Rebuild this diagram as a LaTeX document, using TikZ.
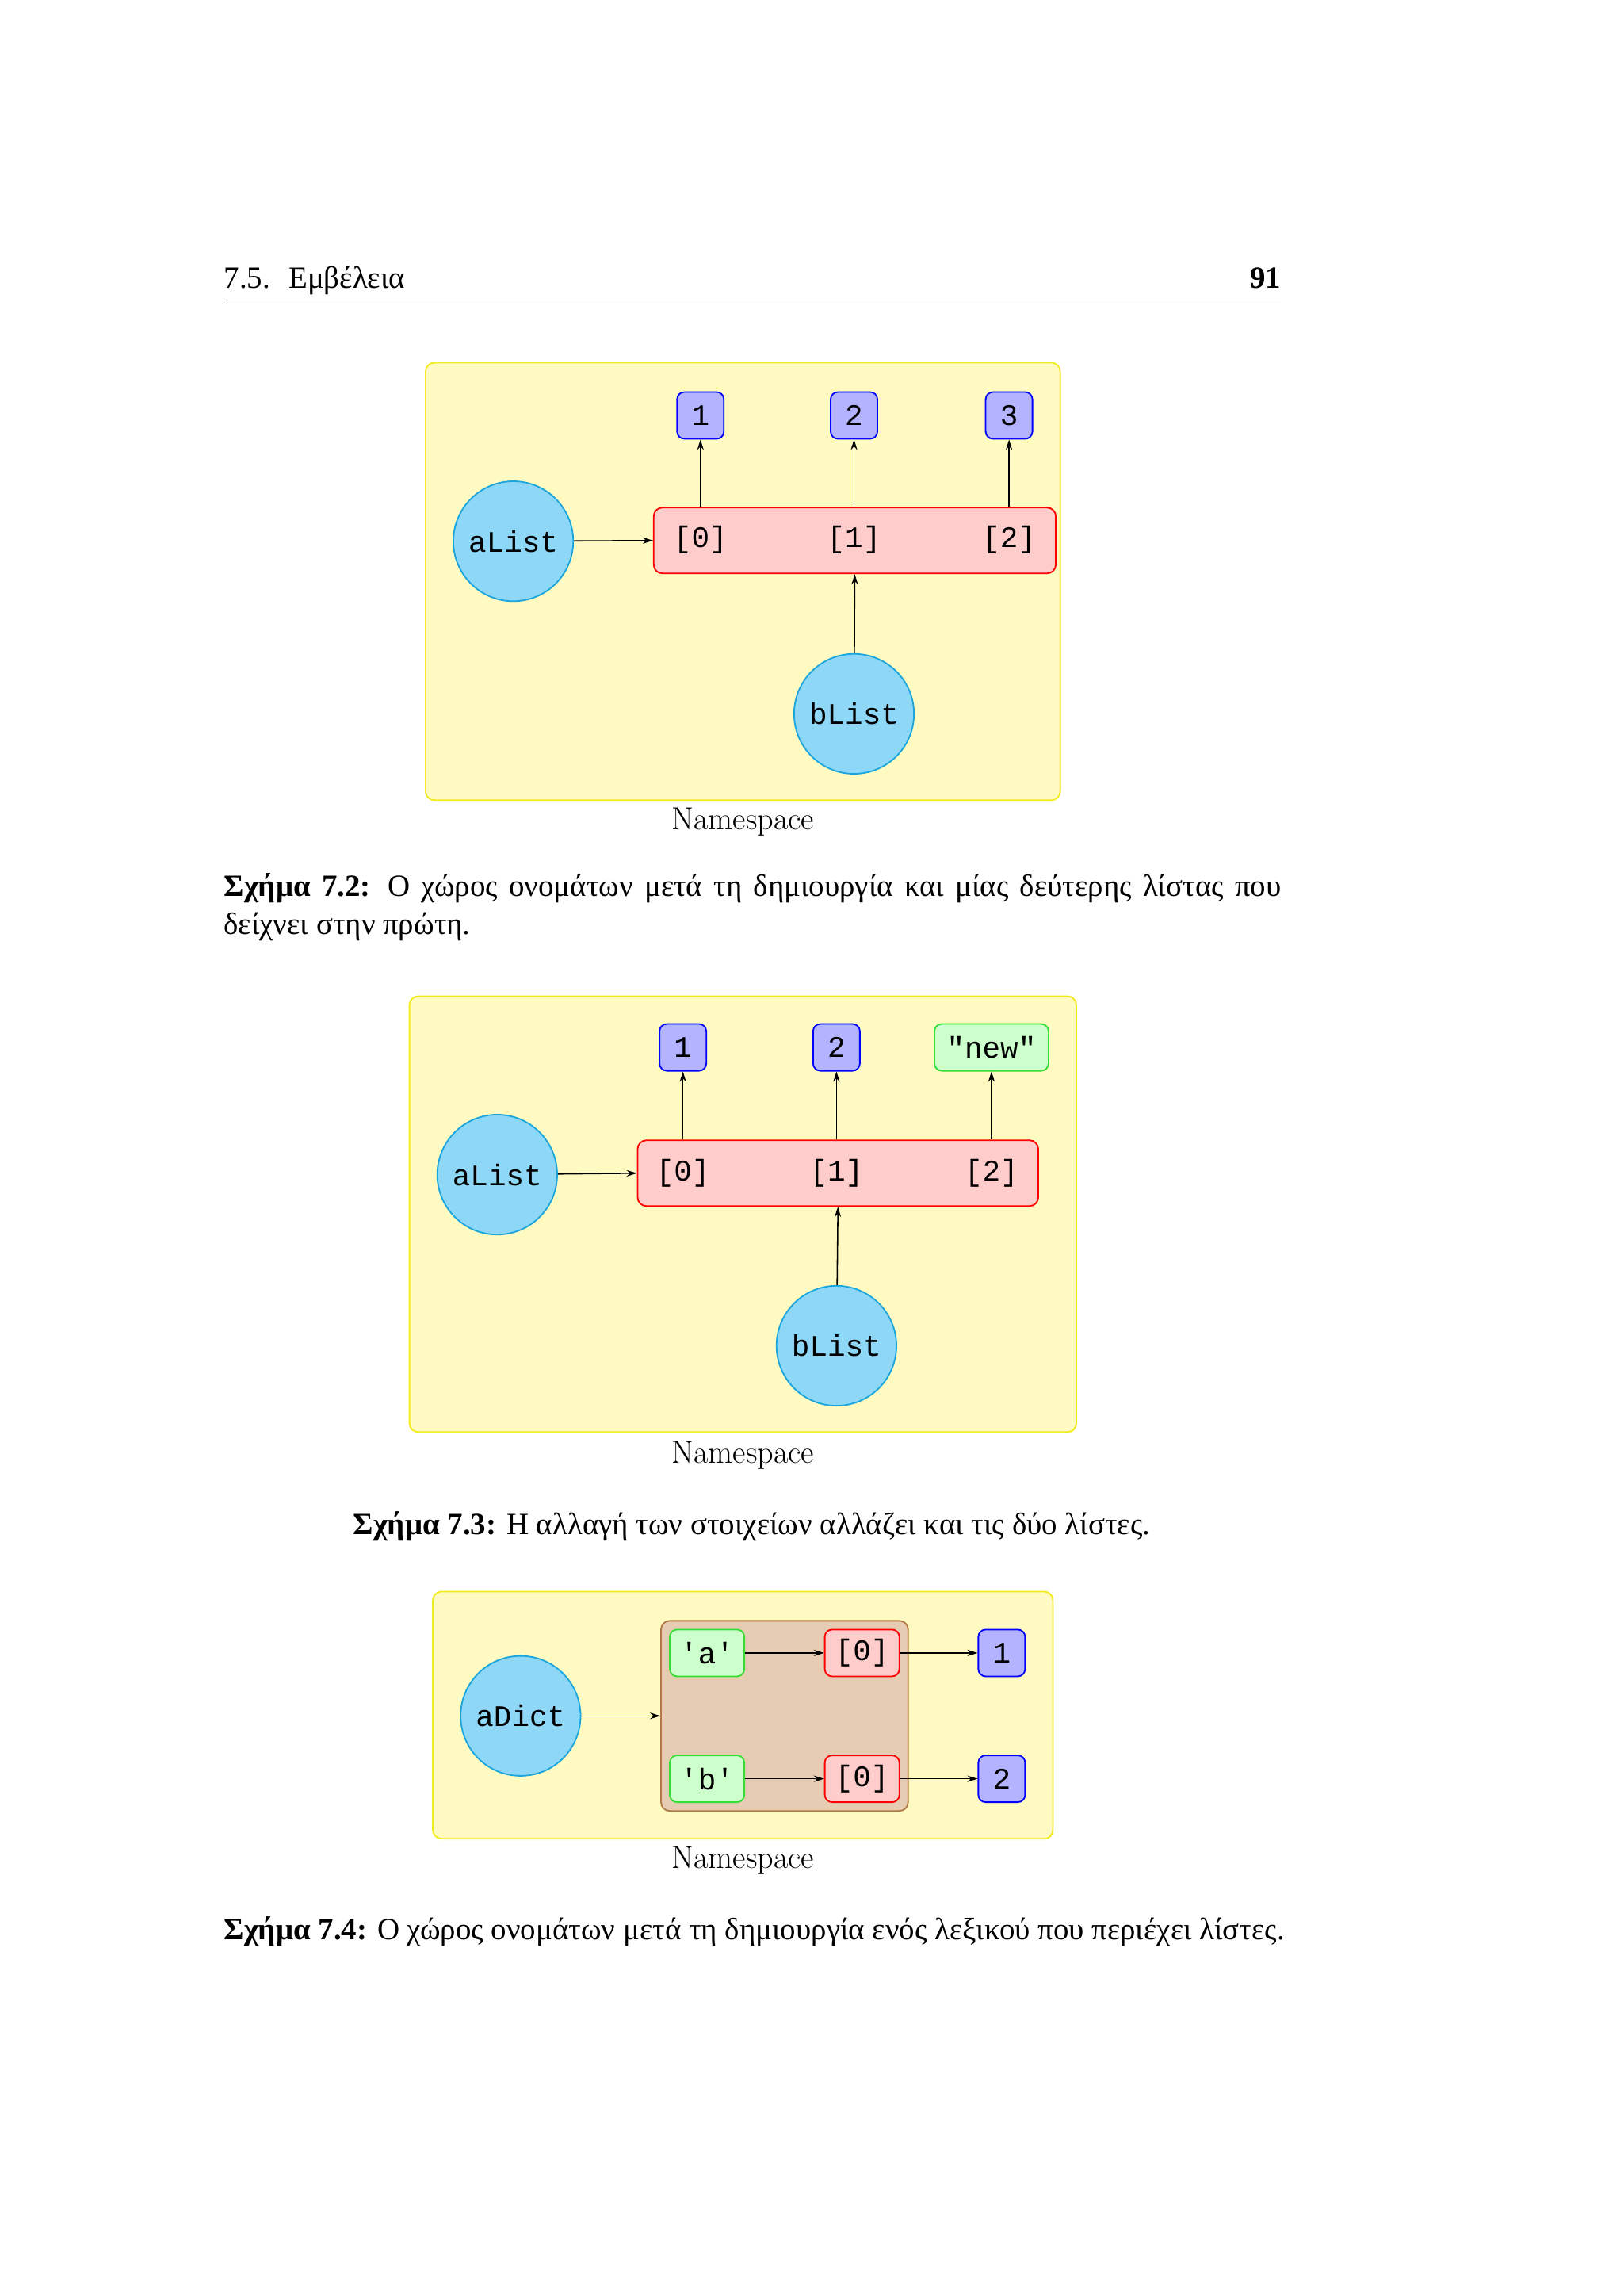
\documentclass[tikz,border=0pt]{standalone}
\usepackage{fontspec}
\setmainfont{Liberation Serif}
\setmonofont{Liberation Mono}
\newfontfamily\cmfont{Latin Modern Roman}
\usetikzlibrary{arrows.meta}
\definecolor{nsfill}{HTML}{FEFAC2}
\definecolor{nsdraw}{HTML}{F2EA1A}
\definecolor{cfill}{HTML}{8FD7F7}
\definecolor{cdraw}{HTML}{1AA5DC}
\definecolor{rfill}{HTML}{FFCCCC}
\definecolor{bfill}{HTML}{B3B3FF}
\definecolor{gfill}{HTML}{CCFFCC}
\definecolor{gdraw}{HTML}{33DD33}
\definecolor{brfill}{HTML}{E6CCB3}
\definecolor{brdraw}{HTML}{B07A45}
\begin{document}
\begin{tikzpicture}[x=0.05cm,y=-0.05cm,
  ns/.style={draw=nsdraw,fill=nsfill,line width=1.4pt,rounded corners=0.3cm},
  var/.style={circle,draw=cdraw,fill=cfill,line width=1.4pt,minimum size=4.1cm,inner sep=0pt,font=\fontsize{29}{29}\selectfont\ttfamily},
  lst/.style={draw=red,fill=rfill,line width=1.4pt,rounded corners=0.3cm,inner sep=0pt},
  idx/.style={inner sep=0pt,font=\fontsize{29}{29}\selectfont\ttfamily},
  val/.style={draw=blue,fill=bfill,line width=1.4pt,rounded corners=0.25cm,minimum width=1.6cm,minimum height=1.6cm,inner sep=2pt,font=\fontsize{29}{29}\selectfont\ttfamily},
  str/.style={draw=gdraw,fill=gfill,line width=1.4pt,rounded corners=0.25cm,minimum height=1.6cm,inner sep=4pt,font=\fontsize{29}{29}\selectfont\ttfamily},
  rv/.style={draw=red,fill=rfill,line width=1.4pt,rounded corners=0.25cm,minimum width=2.55cm,minimum height=1.6cm,inner sep=2pt,font=\fontsize{29}{29}\selectfont\ttfamily},
  arr/.style={-{Stealth[length=0.35cm,width=0.22cm]},line width=1.2pt},
  lbl/.style={font=\fontsize{31}{31}\selectfont\cmfont},
  body/.style={font=\fontsize{30}{37}\selectfont}]
\useasboundingbox (0,0) rectangle (1110,1569.6);
\fill[white] (0,0) rectangle (1110,1569.6);
% header
\node[body,anchor=base west,inner sep=0pt] (hd) at (153,197) {7.5.\hspace{0.6em}Εμβέλεια};
\node[body,anchor=base east,inner sep=0pt,font=\fontsize{30}{37}\selectfont\bfseries] (pg) at (876,197) {91};
\draw[line width=1pt] (153,205) -- (876,205);
% figure 1
\draw[ns] (291,248) rectangle (725,547);
\node[lst,minimum width=13.75cm,minimum height=2.25cm] (L1) at (584.5,369.5) {};
\node[idx] (a0) at (479,369) {[0]};
\node[idx] (a1) at (584,369) {[1]};
\node[idx] (a2) at (690,369) {[2]};
\node[val] (v1) at (479,284) {1};
\node[val] (v2) at (584,284) {2};
\node[val] (v3) at (690,284) {3};
\node[var] (al) at (351,370) {aList};
\node[var] (bl) at (584,488) {bList};
\draw[arr] (al) -- (L1.west);
\draw[arr] (bl) -- (L1.south);
\foreach \i/\v in {a0/v1,a1/v2,a2/v3} \draw[arr] (\i |- L1.north) -- (\v.south);
\node[lbl] (n1) at (508,562) {Namespace};
\node[body,anchor=north west,text width=36.15cm,align=justify,inner sep=0pt] (c1) at (153,597)
 {\textbf{Σχήμα 7.2:} Ο χώρος ονομάτων μετά τη δημιουργία και μίας δεύτερης λίστας που δείχνει στην πρώτη.};
% figure 2
\draw[ns] (280,681) rectangle (736,979);
\node[lst,minimum width=13.7cm,minimum height=2.25cm] (L2) at (573,802) {};
\node[idx] (b0) at (467,802) {[0]};
\node[idx] (b1) at (572,802) {[1]};
\node[idx] (b2) at (678,802) {[2]};
\node[val] (w1) at (467,716) {1};
\node[val] (w2) at (572,716) {2};
\node[str,minimum width=3.9cm] (w3) at (678,716) {"new"};
\node[var] (al2) at (340,803) {aList};
\node[var] (bl2) at (572,920) {bList};
\draw[arr] (al2) -- (L2.west);
\draw[arr] (bl2) -- (L2.south);
\foreach \i/\v in {b0/w1,b1/w2,b2/w3} \draw[arr] (\i |- L2.north) -- (\v.south);
\node[lbl] (n2) at (508,995) {Namespace};
\node[body,anchor=base,inner sep=0pt] (c2) at (514,1049)
 {\textbf{Σχήμα 7.3:} Η αλλαγή των στοιχείων αλλάζει και τις δύο λίστες.};
% figure 3
\draw[ns] (296,1088) rectangle (720,1257);
\node[draw=brdraw,fill=brfill,line width=1.4pt,rounded corners=0.3cm,minimum width=8.45cm,minimum height=6.5cm,inner sep=0pt] (D) at (536.5,1173) {};
\node[str,minimum width=2.55cm] (ka) at (483.5,1130) {'a'};
\node[str,minimum width=2.55cm] (kb) at (483.5,1216) {'b'};
\node[rv] (ra) at (589.5,1130) {[0]};
\node[rv] (rb) at (589.5,1216) {[0]};
\node[val] (x1) at (685,1130) {1};
\node[val] (x2) at (685,1216) {2};
\node[var] (ad) at (356,1173) {aDict};
\draw[arr] (ad) -- (D.west);
\draw[arr] (ka) -- (ra);
\draw[arr] (kb) -- (rb);
\draw[arr] (ra) -- (x1);
\draw[arr] (rb) -- (x2);
\node[lbl] (n3) at (508,1272) {Namespace};
\node[body,anchor=base west,inner sep=0pt] (c3) at (153,1326)
 {\textbf{Σχήμα 7.4:} Ο χώρος ονομάτων μετά τη δημιουργία ενός λεξικού που περιέχει λίστες.};
\end{tikzpicture}
\end{document}
